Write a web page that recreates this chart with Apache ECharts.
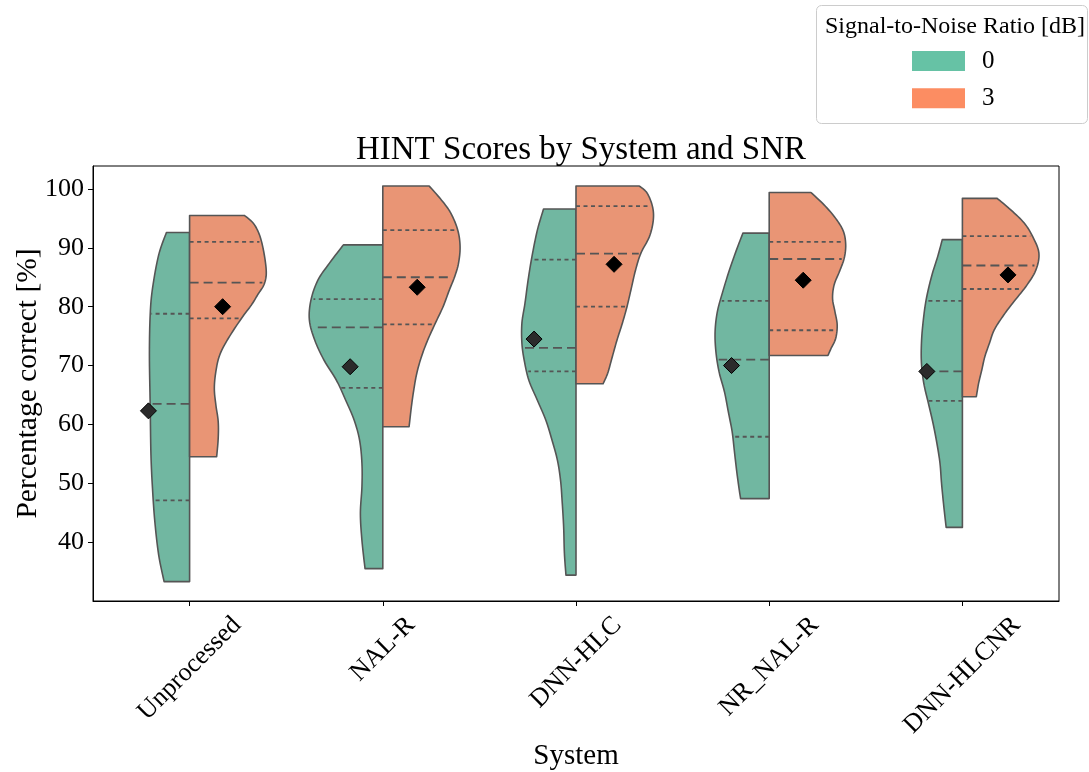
<!DOCTYPE html>
<html>
<head>
<meta charset="utf-8">
<script src="https://cdn.jsdelivr.net/npm/echarts@6/dist/echarts.min.js"></script>
<style>html,body{margin:0;padding:0;background:#fff}#chart{width:1089px;height:772px}</style>
</head>
<body>
<div id="chart"></div>
<script>
// ---------------- DATA ----------------
const categories = ['Unprocessed', 'NAL-R', 'DNN-HLC', 'NR_NAL-R', 'DNN-HLCNR'];
const snrLevels = ['0', '3'];
const yTicks = [40, 50, 60, 70, 80, 90, 100];

// Density outlines [score, relative density] from top (max score) to bottom (min score)
const densSnr0 = [
  [[92.6,0.30],[88.8,0.40],[83.1,0.48],[78.6,0.51],[71.8,0.52],[63.3,0.51],[54.8,0.50],[49.1,0.48],[43.5,0.45],[37.8,0.40],[33.3,0.33]],
  [[90.5,0.51],[87.4,0.69],[84.5,0.84],[81.1,0.93],[77.7,0.95],[74.3,0.88],[70.9,0.76],[67.5,0.60],[64.1,0.48],[60.7,0.37],[57.3,0.30],[53.4,0.27],[49.4,0.27],[44.9,0.29],[40.3,0.27],[35.5,0.23]],
  [[96.6,0.42],[93.0,0.50],[88.5,0.57],[84.5,0.62],[80.6,0.66],[77.2,0.70],[73.8,0.70],[70.9,0.67],[67.5,0.61],[64.1,0.50],[60.7,0.39],[57.3,0.31],[53.9,0.24],[50.5,0.20],[47.1,0.18],[42.6,0.16],[38.1,0.15],[34.4,0.13]],
  [[92.5,0.34],[89.4,0.43],[86.0,0.52],[82.6,0.60],[79.2,0.67],[75.8,0.70],[72.4,0.69],[69.0,0.65],[65.6,0.58],[62.2,0.53],[58.8,0.48],[55.4,0.45],[52.0,0.42],[49.1,0.39],[47.4,0.37]],
  [[91.4,0.26],[88.5,0.32],[85.1,0.40],[81.1,0.47],[77.2,0.51],[73.8,0.53],[70.4,0.53],[67.0,0.50],[63.6,0.44],[60.2,0.38],[56.8,0.33],[53.4,0.29],[50.0,0.27],[46.0,0.24],[42.5,0.21]]
];
const densSnr3 = [
  [[95.5,0.71],[93.9,0.84],[91.1,0.93],[86.5,0.99],[84.0,0.97],[82.0,0.88],[80.3,0.80],[78.0,0.67],[74.6,0.50],[71.8,0.39],[69.0,0.34],[66.1,0.32],[63.3,0.34],[60.5,0.37],[57.6,0.37],[54.5,0.35]],
  [[100.5,0.60],[98.1,0.76],[95.9,0.88],[93.0,0.97],[90.2,1.00],[87.4,0.98],[85.1,0.93],[82.8,0.86],[80.0,0.78],[77.2,0.68],[74.3,0.58],[71.5,0.50],[68.7,0.44],[65.8,0.40],[63.0,0.37],[59.6,0.34]],
  [[100.5,0.82],[99.3,0.92],[97.0,0.99],[94.7,1.00],[91.9,0.95],[89.1,0.84],[86.2,0.77],[82.8,0.71],[80.0,0.66],[77.2,0.60],[74.3,0.53],[71.5,0.47],[68.7,0.41],[66.9,0.35]],
  [[99.4,0.54],[97.3,0.71],[95.0,0.86],[92.8,0.96],[90.5,0.99],[88.2,0.97],[86.0,0.91],[83.7,0.84],[81.4,0.82],[79.2,0.85],[76.9,0.88],[74.6,0.86],[72.9,0.80],[71.7,0.76]],
  [[98.4,0.45],[96.4,0.63],[94.2,0.80],[91.9,0.91],[89.1,0.99],[86.2,0.95],[83.4,0.82],[80.6,0.65],[78.3,0.52],[76.0,0.41],[73.8,0.35],[71.5,0.29],[69.2,0.25],[67.0,0.21],[64.7,0.18]]
];
// Quartiles [Q1, median, Q3]
const quartSnr0 = [[47.1,63.5,78.8],[66.2,76.5,81.3],[69.0,73.0,88.0],[57.9,71.0,81.0],[64.0,69.0,81.0]];
const quartSnr3 = [[78.0,84.1,91.0],[77.0,85.0,93.0],[80.0,89.0,97.1],[76.0,88.1,91.0],[83.0,87.0,92.0]];
// Means and their horizontal offsets (category units)
const meanSnr0 = [62.3, 69.8, 74.5, 70.0, 69.0];
const meanSnr3 = [80.0, 83.3, 87.2, 84.5, 85.4];
const meanOffSnr0 = [-0.213, -0.169, -0.217, -0.195, -0.184];
const meanOffSnr3 = [0.171, 0.178, 0.197, 0.176, 0.236];

// ---------------- STYLE ----------------
const FONT = '"Liberation Serif", "Times New Roman", serif';
const HALF = 0.4;
const Y_MIN = 30, Y_MAX = 103.9;
const fill0 = '#71b7a1', fill3 = '#e99575';
const leg0 = '#66c2a5', leg3 = '#fc8d62';
const edgeColor = '#555';

function widthAt(out, v) {
  for (let k = 0; k < out.length - 1; k++) {
    const [v1, w1] = out[k], [v2, w2] = out[k + 1];
    if (v <= v1 && v >= v2) { const t = (v1 - v) / (v1 - v2); return w1 + (w2 - w1) * t; }
  }
  return out[out.length - 1][1];
}
function catmull(pts, seg) {
  const res = [];
  const n = pts.length;
  for (let k = 0; k < n - 1; k++) {
    const p0 = pts[Math.max(0, k - 1)], p1 = pts[k], p2 = pts[k + 1], p3 = pts[Math.min(n - 1, k + 2)];
    for (let s = 0; s < seg; s++) {
      const t = s / seg, t2 = t * t, t3 = t2 * t;
      const f = (a, b, c, d) => 0.5 * ((2 * b) + (-a + c) * t + (2 * a - 5 * b + 4 * c - d) * t2 + (-a + 3 * b - 3 * c + d) * t3);
      res.push([f(p0[0], p1[0], p2[0], p3[0]), f(p0[1], p1[1], p2[1], p3[1])]);
    }
  }
  res.push(pts[n - 1]);
  return res;
}
function violinRender(dens, quarts, side, fill) {
  return function (params, api) {
    const i = api.value(0);
    const out = dens[i];
    const edge = out.map(([v, w]) => api.coord([i + side * w * HALF, v]));
    const top = api.coord([i, out[0][0]]);
    const bot = api.coord([i, out[out.length - 1][0]]);
    const pts = [top].concat(catmull(edge, 8)).concat([bot]);
    const children = [{
      type: 'polygon', shape: { points: pts },
      style: { fill: fill, stroke: edgeColor, lineWidth: 1.6, lineJoin: 'round' }
    }];
    quarts[i].forEach((q, k) => {
      const w = widthAt(out, q);
      const p0 = api.coord([i, q]);
      const p1 = api.coord([i + side * w * HALF * 0.97, q]);
      children.push({
        type: 'line', shape: { x1: p0[0], y1: p0[1], x2: p1[0], y2: p1[1] },
        style: { stroke: edgeColor, lineWidth: 1.8, lineDash: k === 1 ? [9, 5] : [4, 3.5] }
      });
    });
    return { type: 'group', children: children };
  };
}
const tickFontSize = 26;
const measureCtx = document.createElement('canvas').getContext('2d');
measureCtx.font = tickFontSize + 'px ' + FONT;

const chart = echarts.init(document.getElementById('chart'), null, { renderer: 'canvas' });
chart.setOption({
  backgroundColor: '#fff',
  animation: false,
  title: {
    text: 'HINT Scores by System and SNR',
    left: 576, top: 129, textAlign: 'center',
    textStyle: { fontFamily: FONT, fontSize: 33, fontWeight: 'normal', color: '#000' }
  },
  graphic: [
    { type: 'rect', z: 0, shape: { x: 816.5, y: 5.5, width: 271, height: 118, r: 5 },
      style: { fill: '#fff', stroke: '#cccccc', lineWidth: 1 } },
    { type: 'text', z: 1, x: 955, y: 27,
      style: { text: 'Signal-to-Noise Ratio [dB]', font: '24px ' + FONT, fill: '#000', align: 'center', verticalAlign: 'middle' } }
  ],
  legend: {
    z: 10, padding: 0,
    orient: 'vertical', left: 912, top: 48.5,
    itemWidth: 53, itemHeight: 20, itemGap: 12.3, icon: 'rect',
    selectedMode: false,
    textStyle: { fontFamily: FONT, fontSize: 25, color: '#000', padding: [0, 0, 0, 12] },
    data: [
      { name: snrLevels[0], itemStyle: { color: leg0, borderWidth: 0 } },
      { name: snrLevels[1], itemStyle: { color: leg3, borderWidth: 0 } }
    ]
  },
  grid: {
    left: 93, right: 30, top: 166, bottom: 171,
    containLabel: false, outerBoundsMode: 'none',
    show: true, borderColor: '#000', borderWidth: 1, backgroundColor: 'transparent'
  },
  xAxis: {
    type: 'value', min: -0.5, max: 4.5,
    name: 'System', nameLocation: 'middle', nameGap: 141, nameMoveOverlap: false,
    nameTextStyle: { fontFamily: FONT, fontSize: 29, color: '#000' },
    axisLine: { show: true, onZero: false, lineStyle: { color: '#000', width: 1 } },
    axisTick: { show: true, inside: false, length: 5, lineStyle: { color: '#000' }, customValues: [0, 1, 2, 3, 4] },
    axisLabel: { show: false },
    splitLine: { show: false }
  },
  yAxis: {
    type: 'value', min: Y_MIN, max: Y_MAX,
    name: 'Percentage correct [%]', nameLocation: 'middle', nameGap: 50, nameMoveOverlap: false,
    nameTextStyle: { fontFamily: FONT, fontSize: 29.5, color: '#000' },
    axisLine: { show: true, onZero: false, lineStyle: { color: '#000', width: 1 } },
    axisTick: { show: true, inside: false, length: 5, lineStyle: { color: '#000' }, customValues: yTicks },
    axisLabel: { fontFamily: FONT, fontSize: tickFontSize, color: '#000', margin: 9, customValues: yTicks },
    splitLine: { show: false }
  },
  series: [
    {
      type: 'custom', name: snrLevels[0], itemStyle: { color: leg0 }, clip: false, z: 2,
      data: categories.map((c, i) => [i, meanSnr0[i]]),
      renderItem: violinRender(densSnr0, quartSnr0, -1, fill0)
    },
    {
      type: 'custom', name: snrLevels[1], itemStyle: { color: leg3 }, clip: false, z: 2,
      data: categories.map((c, i) => [i, meanSnr3[i]]),
      renderItem: violinRender(densSnr3, quartSnr3, 1, fill3)
    },
    {
      type: 'scatter', name: 'mean0', symbol: 'diamond', symbolSize: 16, z: 5,
      itemStyle: { color: '#2b2b2b', borderColor: '#000', borderWidth: 1, opacity: 1 },
      data: meanSnr0.map((m, i) => [i + meanOffSnr0[i], m])
    },
    {
      type: 'scatter', name: 'mean3', symbol: 'diamond', symbolSize: 16, z: 5,
      itemStyle: { color: '#000', borderColor: '#000', borderWidth: 1, opacity: 1 },
      data: meanSnr3.map((m, i) => [i + meanOffSnr3[i], m])
    },
    {
      type: 'custom', name: 'xlabels', clip: false, silent: true, z: 3,
      data: categories.map((c, i) => [i, Y_MIN]),
      renderItem: function (params, api) {
        const i = api.value(0);
        const p = api.coord([i, Y_MIN]);
        const w = measureCtx.measureText(categories[i]).width;
        const h = tickFontSize * 1.1;
        const bh = (w + h) * Math.SQRT1_2;
        return {
          type: 'text', x: p[0], y: p[1] + 10 + bh / 2, rotation: Math.PI / 4,
          style: { text: categories[i], font: tickFontSize + 'px ' + FONT, fill: '#000', align: 'center', verticalAlign: 'middle' }
        };
      }
    }
  ]
});
</script>
</body>
</html>
